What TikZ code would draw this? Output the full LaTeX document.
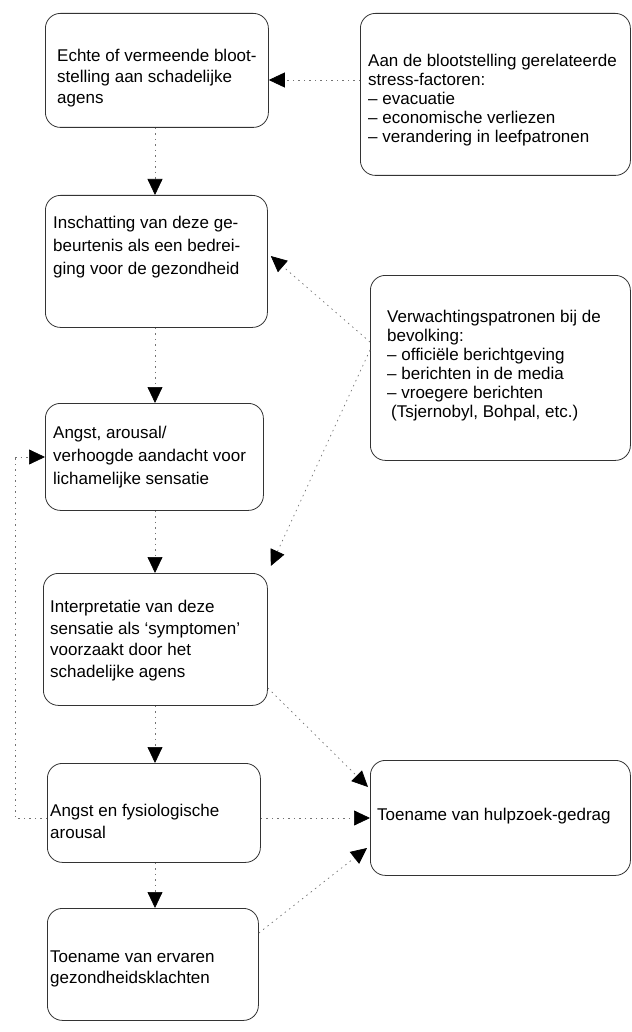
\documentclass[tikz,border=0pt]{standalone}
\usepackage{fontspec}
\setmainfont{Liberation Sans}
\usetikzlibrary{arrows.meta,calc}
\begin{document}
\begin{tikzpicture}[x=1pt,y=-1pt,
  box/.style={draw=black!80,line width=0.8pt,rounded corners=15pt,inner sep=0pt,anchor=north west},
  txt/.style={inner sep=0pt,anchor=north west,align=left,font=\fontsize{17}{#1}\selectfont},
  txt/.default=22,
  conn/.style={draw=black!55,line width=0.7pt,dash pattern=on 1.5pt off 4pt,
    -{Triangle[length=16pt,width=15pt,color=black,fill=black]}},
  plain/.style={draw=black!55,line width=0.7pt,dash pattern=on 1.5pt off 4pt}]
\useasboundingbox (0,0) rectangle (631,1032);
% boxes
\node[box,minimum width=223pt,minimum height=114pt] (b1) at (45,13) {};
\node[box,minimum width=270pt,minimum height=162pt] (b2) at (360,13) {};
\node[box,minimum width=222pt,minimum height=132pt] (b3) at (45,195) {};
\node[box,minimum width=218pt,minimum height=107pt] (b4) at (45,403) {};
\node[box,minimum width=224pt,minimum height=132pt] (b5) at (43,573) {};
\node[box,minimum width=213pt,minimum height=99pt] (b6) at (47,763) {};
\node[box,minimum width=211pt,minimum height=112pt] (b7) at (47,908) {};
\node[box,minimum width=260pt,minimum height=185pt] (b8) at (370,275) {};
\node[box,minimum width=260pt,minimum height=115pt] (b9) at (370,760) {};
% texts
\node[txt=21] (t1) at (57,49) {Echte of vermeende bloot-\\stelling aan schadelijke\\agens};
\node[txt=19] (t2) at (368,53.5) {Aan de blootstelling gerelateerde\\stress-factoren:\\-- evacuatie\\-- economische verliezen\\-- verandering in leefpatronen};
\node[txt=23] (t3) at (53,216) {Inschatting van deze ge-\\beurtenis als een bedrei-\\ging voor de gezondheid};
\node[txt=23] (t4) at (53,426) {Angst, arousal/\\verhoogde aandacht voor\\lichamelijke sensatie};
\node[txt=21.5] (t5) at (50,600) {Interpretatie van deze\\sensatie als `symptomen'\\voorzaakt door het\\schadelijke agens};
\node[txt=22] (t6) at (50,804) {Angst en fysiologische\\arousal};
\node[txt=21] (t7) at (50,951) {Toename van ervaren\\gezondheidsklachten};
\node[txt=19] (t8) at (387,310) {Verwachtingspatronen bij de\\bevolking:\\-- offici\"ele berichtgeving\\-- berichten in de media\\-- vroegere berichten\\\hspace{4pt}(Tsjernobyl, Bohpal, etc.)};
\node[txt=22] (t9) at (377,808) {Toename van hulpzoek-gedrag};
% connectors
\draw[conn] (b2.west |- 0,80) -- (b1.east |- 0,80);
\draw[conn] (b1.south -| 155,0) -- (b3.north -| 155,0);
\draw[conn] (b3.south -| 155,0) -- (b4.north -| 155,0);
\draw[conn] (b4.south -| 155,0) -- (b5.north -| 155,0);
\draw[conn] (b5.south -| 155,0) -- (b6.north -| 155,0);
\draw[conn] (b6.south -| 155,0) -- (b7.north -| 155,0);
\draw[conn] (b8.west |- 0,342) -- ($(b3.east |- 0,256)+(3,0)$);
\draw[conn] (b8.west |- 0,350) -- ($(b5.north east)+(3,-7)$);
\draw[conn] (b5.east |- 0,688) -- ($(b9.west |- 0,787)+(-2,0)$);
\draw[conn] (b6.east |- 0,818) -- (b9.west |- 0,818);
\draw[conn] (b7.east |- 0,933) -- ($(b9.west |- 0,848)+(-3,0)$);
\coordinate (l1) at (15,818);
\coordinate (l2) at (15,457);
\draw[plain] (b6.west |- 0,818) -- (l1) -- (l2);
\draw[conn] (l2) -- (b4.west |- 0,457);
\end{tikzpicture}
\end{document}
